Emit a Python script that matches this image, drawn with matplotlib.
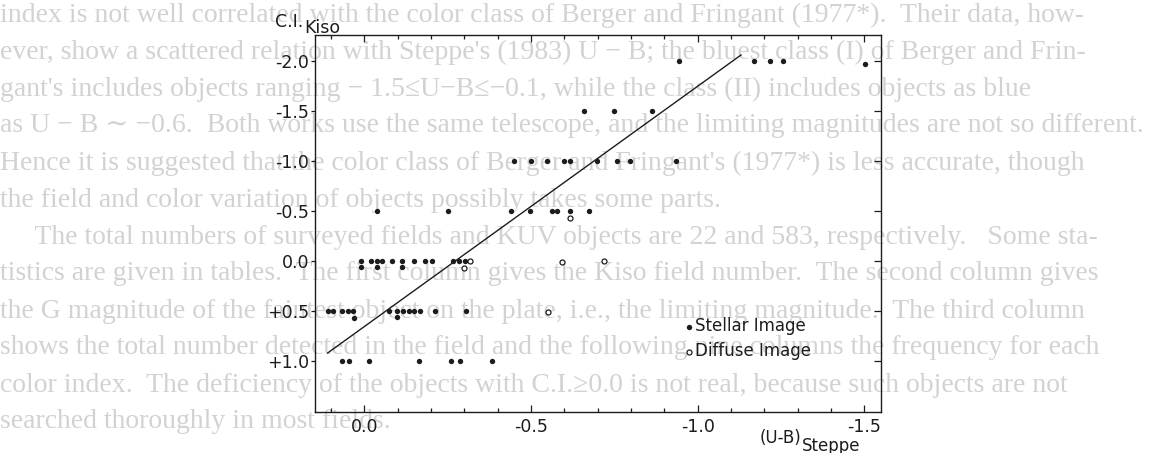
import matplotlib
matplotlib.use("Agg")
import matplotlib.pyplot as plt
from matplotlib.ticker import MultipleLocator, FixedLocator

# objects with stellar image (filled dots)
stellar_ub = [-0.944, -1.169, -1.218, -1.256, -1.502,
              -0.660, -0.748, -0.862,
              -0.448, -0.499, -0.548, -0.598, -0.616, -0.697, -0.757, -0.797, -0.934,
              -0.037, -0.250, -0.440, -0.497, -0.562, -0.579, -0.617, -0.675,
              0.011, -0.019, -0.037, -0.054, -0.083, -0.112, -0.150, -0.183, -0.202, -0.267, -0.285, -0.301,
              0.011, -0.037, -0.112,
              0.108, 0.094, 0.066, 0.048, 0.033, -0.075, -0.098, -0.116, -0.133, -0.150, -0.167, -0.212, -0.304,
              0.032, -0.098,
              0.068, 0.046, -0.013, -0.165, -0.259, -0.287, -0.382]
stellar_ci = [-2.0, -2.0, -2.0, -2.0, -1.97,
              -1.5, -1.5, -1.5,
              -1.0, -1.0, -1.0, -1.0, -1.0, -1.0, -1.0, -1.0, -1.0,
              -0.5, -0.5, -0.5, -0.5, -0.5, -0.5, -0.5, -0.5,
              0.0, 0.0, 0.0, 0.0, 0.0, 0.0, 0.0, 0.0, 0.0, 0.0, 0.0, 0.0,
              0.06, 0.06, 0.06,
              0.5, 0.5, 0.5, 0.5, 0.5, 0.5, 0.5, 0.5, 0.5, 0.5, 0.5, 0.5, 0.5,
              0.565, 0.56,
              1.0, 1.0, 1.0, 1.0, 1.0, 1.0, 1.0]

# objects with diffuse image (open circles)
diffuse_ub = [-0.318, -0.300, -0.594, -0.720, -0.552, -0.618]
diffuse_ci = [0.0, 0.07, 0.01, 0.0, 0.507, -0.43]

# the straight line drawn through the points
fit_ub = [0.11, -1.13]
fit_ci = [0.92, -2.06]

xtick_vals = [0.0, -0.5, -1.0, -1.5]
xtick_labels = ["0.0", "-0.5", "-1.0", "-1.5"]
ytick_vals = [-2.0, -1.5, -1.0, -0.5, 0.0, 0.5, 1.0]
ytick_labels = ["-2.0", "-1.5", "-1.0", "-0.5", "0.0", "+0.5", "+1.0"]

# text of the page showing through behind the figure
page_lines = [
    "index is not well correlated with the color class of Berger and Fringant (1977*).  Their data, how-",
    "ever, show a scattered relation with Steppe's (1983) U \u2212 B; the bluest class (I) of Berger and Frin-",
    "gant's includes objects ranging \u2212 1.5\u2264U\u2212B\u2264\u22120.1, while the class (II) includes objects as blue",
    "as U \u2212 B \u223c \u22120.6.  Both works use the same telescope, and the limiting magnitudes are not so different.",
    "Hence it is suggested that the color class of Berger and Fringant's (1977*) is less accurate, though",
    "the field and color variation of objects possibly takes some parts.",
    "     The total numbers of surveyed fields and KUV objects are 22 and 583, respectively.   Some sta-",
    "tistics are given in tables.  The first column gives the Kiso field number.  The second column gives",
    "the G magnitude of the faintest object on the plate, i.e., the limiting magnitude.  The third column",
    "shows the total number detected in the field and the following nine columns the frequency for each",
    "color index.  The deficiency of the objects with C.I.\u22650.0 is not real, because such objects are not",
    "searched thoroughly in most fields.",
]

ink = "#1c1c1c"
W, H = 1159, 453

fig = plt.figure(figsize=(W / 100, H / 100), dpi=100)
fig.patch.set_facecolor("white")

for i, line in enumerate(page_lines):
    fig.text(0, 1 - (15 + 37 * i) / H, line, ha="left", va="center",
             fontsize=20, color="#d2d2d2", zorder=-5,
             family=["Liberation Serif", "DejaVu Serif"])

ax = fig.add_axes([315 / W, 1 - 412 / H, 566 / W, 377 / H])
ax.set_facecolor("none")

ax.plot(fit_ub, fit_ci, color=ink, lw=1.0, zorder=2)
st = ax.scatter(stellar_ub, stellar_ci, s=15, color=ink, lw=0, zorder=3,
                label="Stellar Image")
df = ax.scatter(diffuse_ub, diffuse_ci, s=13, facecolors="white",
                edgecolors=ink, linewidths=0.9, zorder=3, label="Diffuse Image")

ax.set_xlim(0.148, -1.55)
ax.set_ylim(1.51, -2.26)

ax.xaxis.set_major_locator(FixedLocator(xtick_vals))
ax.set_xticklabels(xtick_labels)
ax.xaxis.set_minor_locator(MultipleLocator(0.1))
ax.yaxis.set_major_locator(FixedLocator(ytick_vals))
ax.set_yticklabels(ytick_labels)

for sp in ax.spines.values():
    sp.set_color(ink)
    sp.set_linewidth(1.0)

ax.tick_params(axis="x", which="both", direction="in", top=True, bottom=True,
               color=ink, width=0.9, labelsize=12.5, labelcolor=ink, pad=4)
ax.tick_params(axis="x", which="major", length=5)
ax.tick_params(axis="x", which="minor", length=3)
ax.tick_params(axis="y", which="major", direction="out", left=True, right=False,
               length=3, width=0.9, color=ink, labelsize=12.5, labelcolor=ink, pad=1)
# inward ticks on the right border
ax2 = ax.secondary_yaxis("right")
ax2.yaxis.set_major_locator(FixedLocator(ytick_vals))
ax2.tick_params(direction="in", length=5, width=0.9, color=ink, labelright=False)
ax2.spines["right"].set_visible(False)

ci = fig.text(275 / W, 1 - 27 / H, "C.I.", fontsize=12.5, color=ink, va="baseline")
ax.annotate("Kiso", xy=(1, 0), xycoords=ci, xytext=(0.5, -1.5),
            textcoords="offset points", fontsize=12.5, color=ink, va="baseline")
ub = fig.text(760 / W, 1 - 443 / H, "(U-B)", fontsize=12, color=ink, va="baseline")
ax.annotate("Steppe", xy=(1, 0), xycoords=ub, xytext=(0, -3),
            textcoords="offset points", fontsize=12, color=ink, va="baseline")

ax.legend(handles=[st, df], loc="upper left", bbox_to_anchor=(0.655, 0.251),
          frameon=False, fontsize=12, handlelength=0.4, handletextpad=0.15,
          borderpad=0, borderaxespad=0, labelspacing=0.42, labelcolor=ink)

fig.savefig("out.png", dpi=100)
